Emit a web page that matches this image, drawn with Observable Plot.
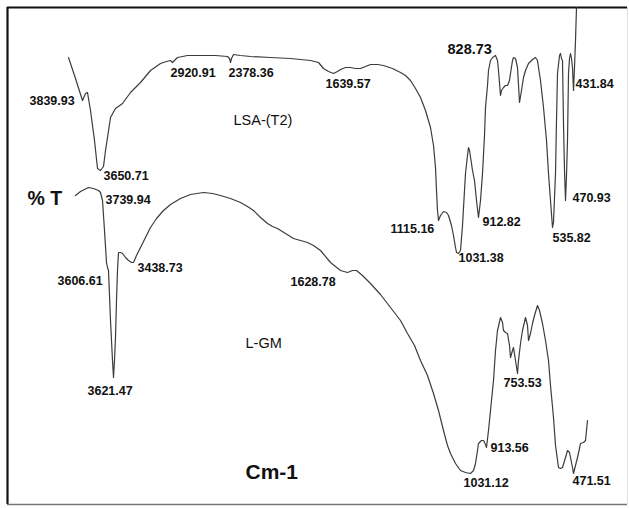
<!DOCTYPE html>
<html>
<head>
<meta charset="utf-8">
<script src="https://cdn.jsdelivr.net/npm/d3@7"></script>
<script src="https://cdn.jsdelivr.net/npm/@observablehq/plot@0.6"></script>
<style>
  html, body { margin: 0; padding: 0; background: #fff; }
  #chart svg { display: block; }
</style>
</head>
<body>
<div id="chart"></div>
<script>
// Upper spectrum LSA-(T2): [position, transmittance (arbitrary units)]
const lsaT2 = [[68,447],[75,426],[82,404],[85,411],[87,412],[90,394],[94,364],[97,336],[100,334],[103,338],[105,354],[107,367],[110,387],[115,396],[122,401],[130,412],[140,422],[150,434],[160,441],[166,443],[170,444],[172,442],[174,444],[177,447],[187,449],[200,449],[215,449],[227,448],[229,446],[230,442],[231,446],[233,450],[240,449],[250,448],[270,447],[290,446],[300,445],[310,444],[318,442],[323,436],[328,433],[333,431],[337,433],[340,435],[345,437],[350,437],[355,436],[360,436],[365,438],[370,440],[377,440],[383,439],[392,436],[400,432],[405,429],[410,424],[415,416],[420,407],[425,394],[430,377],[433,359],[435,337],[436,314],[437,294],[438,284],[440,289],[443,293],[446,292],[448,289],[451,279],[453,269],[455,257],[456,252],[458,251],[460,254],[462,279],[464,314],[465,331],[467,349],[468,357],[469,354],[471,341],[472,334],[474,324],[476,304],[478,287],[480,304],[482,331],[484,369],[485,397],[487,419],[488,434],[490,444],[492,447],[495,449],[497,444],[498,434],[500,409],[501,414],[503,417],[505,419],[507,419],[509,424],[510,431],[512,444],[513,447],[515,446],[517,437],[519,402],[521,414],[523,427],[525,434],[528,441],[532,445],[535,447],[537,444],[538,437],[540,424],[543,397],[546,364],[548,331],[550,304],[552,277],[553,282],[555,331],[556,384],[557,431],[559,449],[560,451],[561,446],[562,444],[563,381],[564,334],[565,304],[566,329],[567,364],[568,431],[569,446],[570,451],[571,446],[572,437],[573,414],[574,437],[575,464],[576,497]];

// Lower spectrum L-GM
const lGM = [[75,309],[80,313],[88,317],[93,316],[98,314],[100,312],[102,304],[104,274],[106,242],[107,237],[108,234],[110,184],[112,144],[113,127],[114,144],[115,167],[116,204],[117,234],[118,252],[120,252],[122,251],[125,247],[128,244],[131,242],[133,242],[136,249],[140,257],[145,267],[150,277],[156,286],[163,294],[170,300],[180,306],[190,310],[203,312],[212,311],[220,309],[230,306],[240,302],[247,298],[253,294],[260,287],[267,281],[272,278],[277,276],[285,271],[293,266],[300,264],[307,262],[313,259],[320,254],[330,242],[340,234],[347,232],[352,234],[356,234],[362,229],[370,221],[380,210],[390,197],[400,184],[407,171],[414,159],[420,144],[427,129],[433,111],[438,94],[443,74],[447,59],[450,51],[455,41],[460,34],[465,32],[470,31],[473,34],[475,41],[477,54],[478,61],[481,64],[483,64],[485,60],[486,57],[488,74],[490,94],[493,124],[495,154],[497,174],[500,187],[502,182],[503,174],[505,172],[507,171],[509,159],[510,147],[512,154],[513,157],[515,144],[517,131],[518,144],[520,161],[522,174],[525,187],[527,179],[528,164],[530,171],[532,181],[534,189],[537,199],[539,194],[542,181],[545,164],[548,144],[550,119],[553,87],[555,59],[558,37],[560,36],[562,37],[565,47],[567,54],[569,52],[570,47],[572,37],[573,31],[575,39],[577,47],[579,56],[580,61],[583,62],[585,64],[586,74],[587,84]];

// Peak annotations: [text, position, transmittance]
const lsaPeaks = [["3839.93",29,404],["3650.71",103,329],["2920.91",170,432],["2378.36",228,432],["1639.57",325,421],["1115.16",390,276],["1031.38",458,247],["912.82",482,283],["535.82",552,267],["470.93",572,307],["431.84",575,421]];
const lsaBigPeak = [["828.73",447,455]];
const lgmPeaks = [["3739.94",105,305],["3606.61",57,224],["3438.73",137,237],["3621.47",87,114],["1628.78",290,223],["1031.12",463,22],["913.56",490,57],["753.53",503,122],["471.51",572,24]];

// Series names and axis titles
const seriesNames = [["LSA-(T2)",233,384],["L-GM",245,161]];
const yTitle = [["% T",27,306]];
const xTitle = [["Cm-1",245,32]];

const toRows = arr => arr.map(([x, t]) => ({x, t}));
const toLabels = arr => arr.map(([text, x, t]) => ({text, x, t}));

const font = "'Liberation Sans', Arial, Helvetica, sans-serif";
const lineColor = "#3c3c3c";

const chart = Plot.plot({
  width: 629,
  height: 508,
  marginLeft: 7,
  marginRight: 2,
  marginTop: 7,
  marginBottom: 4,
  x: {domain: [7, 627], axis: null},
  y: {domain: [0, 497], axis: null},
  style: {background: "#fff", fontFamily: font},
  marks: [
    Plot.ruleY([497], {stroke: "#111", strokeWidth: 2.2}),
    Plot.ruleX([7], {stroke: "#111", strokeWidth: 2.2}),
    Plot.ruleY([0], {stroke: "#777", strokeWidth: 1.6}),
    Plot.ruleX([627], {stroke: "#e2e2e2", strokeWidth: 1}),
    Plot.line(toRows(lsaT2), {x: "x", y: "t", stroke: lineColor, strokeWidth: 1.2}),
    Plot.line(toRows(lGM), {x: "x", y: "t", stroke: lineColor, strokeWidth: 1.2}),
    Plot.text(toLabels(lsaPeaks), {x: "x", y: "t", text: "text", textAnchor: "start", fontSize: 12.5, fontWeight: "bold", fill: "#111"}),
    Plot.text(toLabels(lgmPeaks), {x: "x", y: "t", text: "text", textAnchor: "start", fontSize: 12.5, fontWeight: "bold", fill: "#111"}),
    Plot.text(toLabels(lsaBigPeak), {x: "x", y: "t", text: "text", textAnchor: "start", fontSize: 14.5, fontWeight: "bold", fill: "#111"}),
    Plot.text(toLabels(seriesNames), {x: "x", y: "t", text: "text", textAnchor: "start", fontSize: 14.5, fill: "#111"}),
    Plot.text(toLabels(yTitle), {x: "x", y: "t", text: "text", textAnchor: "start", fontSize: 19.5, fontWeight: "bold", fill: "#111"}),
    Plot.text(toLabels(xTitle), {x: "x", y: "t", text: "text", textAnchor: "start", fontSize: 21, fontWeight: "bold", fill: "#111"})
  ]
});
document.getElementById("chart").appendChild(chart);
</script>
</body>
</html>
